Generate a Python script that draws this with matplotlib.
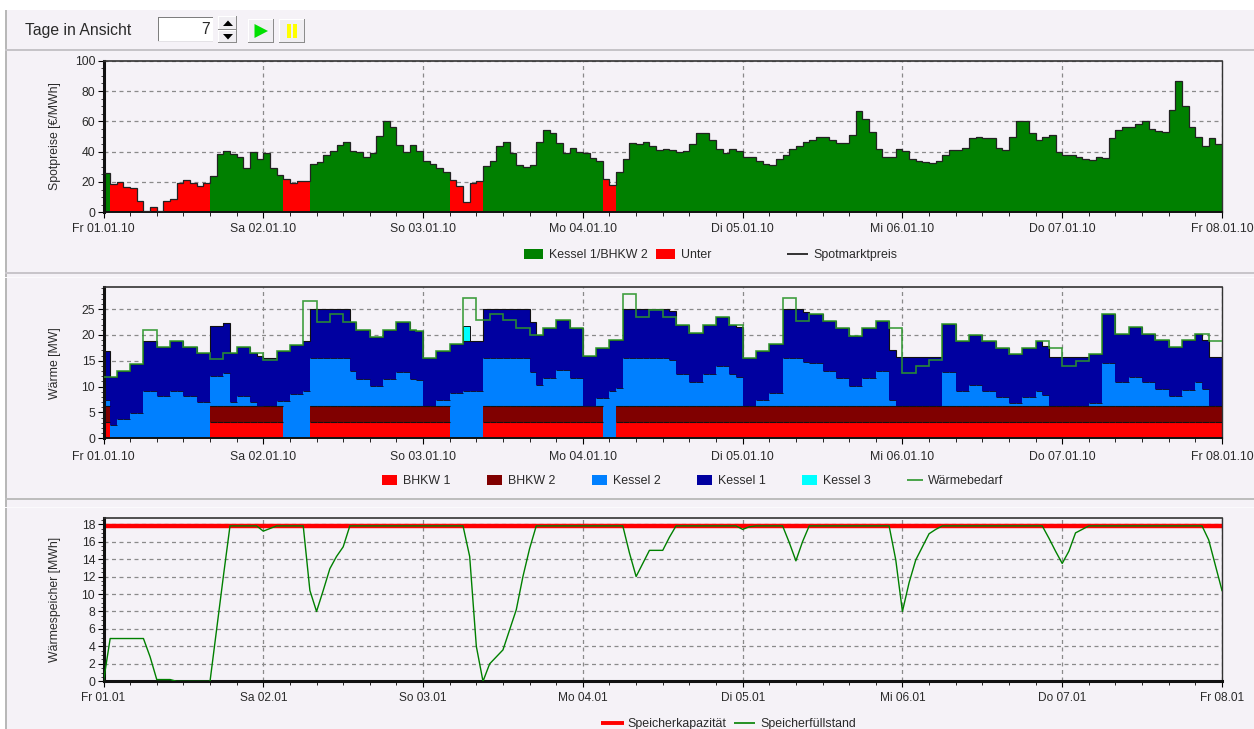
import numpy as np
import matplotlib
matplotlib.use("Agg")
import matplotlib.pyplot as plt
from matplotlib.patches import Rectangle, Polygon

plt.rcParams['font.family'] = ['Liberation Sans', 'DejaVu Sans']

W, H = 1254, 729

# ---------------- data (hourly, 01.01.10 00:00 .. 08.01.10 00:00) ----------------
spot_prices = [
    26, 18.5, 20, 17, 16, 7.5, 0.7, 3.7, 0.7, 7.5, 9, 19, 21.5, 19, 17.5, 19, 24, 38.5, 40.5, 38.5, 36.7, 29, 40, 35,
    39, 29, 24.5, 22, 19, 20.5, 20.5, 32, 33.5, 38, 40.5, 44.5, 46.5, 40.5, 40, 36.7, 39, 50.5, 60, 56.5, 44.5, 40, 44.5, 40.5,
    34, 32, 29, 26.5, 21, 17.6, 6.6, 19.5, 20.5, 30.5, 34, 43.5, 46.5, 39, 31, 30, 31, 46.5, 54, 52.5, 45.5, 39, 42.5, 39.5,
    39, 36, 34, 22, 18, 26.5, 35, 45.5, 45, 46.5, 44, 41, 42, 41, 40, 40.5, 45, 52.5, 52.5, 48, 41.5, 39, 42, 40.5,
    36.7, 36.7, 34, 32, 31, 35, 37.5, 41.5, 44, 46.5, 48, 49.5, 49.5, 47.5, 46, 46, 51, 66.5, 61.5, 53, 41.5, 36.7, 36.7, 41.5,
    40.5, 35, 34, 33, 32.5, 34, 37.5, 41, 41, 42.5, 49, 50, 49, 49, 42.5, 41, 49.5, 60, 60, 52.5, 48, 49.5, 51, 39.5,
    37.5, 37.5, 36.7, 35, 34.5, 36.5, 36, 49, 54, 56.5, 56, 58, 60, 55, 53.5, 53, 67.5, 86.5, 70, 56, 50, 43.5, 49, 45,
]
under_hours = [1, 2, 3, 4, 5, 6, 7, 8, 9, 10, 11, 12, 13, 14, 15, 27, 28, 29, 30, 52, 53, 54, 55, 56, 75, 76]

bhkw1 = ([3.1] * 1 + [0] * 15 + [3.1] * 11 + [0] * 4 + [3.1] * 21 + [0] * 5 + [3.1] * 18 + [0] * 2 + [3.1] * 91)
bhkw2 = ([3.1] * 1 + [0] * 15 + [3.1] * 11 + [0] * 4 + [3.1] * 21 + [0] * 5 + [3.1] * 18 + [0] * 2 + [3.1] * 91)
kessel2_top = [
    7.4, 2.5, 3.7, 3.7, 4.8, 4.8, 9.2, 9.2, 8.1, 8.1, 9.2, 9.2, 8.1, 8.1, 7, 7, 12.1, 12.1, 12.6, 7, 8.1, 8.1, 7, 6.3,
    6.2, 6.2, 7.2, 7.2, 8.6, 8.6, 9.2, 15.6, 15.6, 15.6, 15.6, 15.6, 15.6, 13, 11.5, 11.5, 10.1, 10.1, 11.5, 11.5, 12.9, 12.9, 11.5, 11.2,
    6.2, 6.2, 7.4, 7.4, 8.7, 8.7, 9.2, 9.2, 9.2, 15.5, 15.5, 15.5, 15.5, 15.5, 15.5, 15.5, 12.8, 10.3, 11.7, 11.7, 13.2, 13.2, 11.7, 11.7,
    6.3, 6.3, 7.8, 7.8, 9.2, 9.7, 15.5, 15.5, 15.5, 15.5, 15.5, 15.5, 15.5, 15.2, 12.5, 12.5, 10.8, 10.8, 12.4, 12.4, 13.9, 13.9, 12.4, 11.9,
    6.2, 6.2, 7.4, 7.4, 8.8, 8.8, 15.5, 15.5, 15.5, 14.8, 14.6, 14.6, 13, 13, 11.7, 11.7, 10.1, 10.1, 11.7, 11.7, 13, 13, 7.4, 6.2,
    6.2, 6.2, 6.2, 6.2, 6.2, 6.2, 12.8, 12.8, 9.2, 9.2, 10.3, 10.3, 9.2, 9.2, 7.9, 7.9, 6.8, 6.8, 7.9, 7.9, 9.2, 8.4, 6.2, 6.2,
    6.2, 6.2, 6.2, 6.2, 6.8, 6.8, 14.6, 14.6, 10.8, 10.8, 11.9, 11.9, 10.8, 10.8, 9.5, 9.5, 8.1, 8.1, 9.4, 9.4, 10.8, 9.5, 6.2, 6.2,
]
kessel1_top = [
    16.9, 11.9, 13.1, 13.1, 14.3, 14.3, 18.8, 18.8, 17.7, 17.7, 18.8, 18.8, 17.7, 17.7, 16.5, 16.5, 21.7, 21.7, 22.2, 16.5, 17.7, 17.7, 16.5, 15.9,
    15.6, 15.6, 16.8, 16.8, 18.1, 18.1, 18.8, 25, 25, 25, 25, 25, 25, 22.4, 21, 21, 19.5, 19.5, 21, 21, 22.4, 22.4, 21, 20.8,
    15.6, 15.6, 16.9, 16.9, 18.3, 18.3, 18.8, 18.8, 18.8, 25, 25, 25, 25, 25, 25, 25, 22.4, 19.9, 21.3, 21.3, 22.8, 22.8, 21.3, 21.3,
    15.9, 15.9, 17.4, 17.4, 19, 19, 25, 25, 25, 25, 25, 25, 25, 24.7, 21.9, 21.9, 20.3, 20.3, 21.9, 21.9, 23.4, 23.4, 21.9, 21.5,
    15.5, 15.5, 16.8, 16.8, 18.3, 18.3, 25, 25, 25, 24.4, 24.1, 24.1, 22.6, 22.6, 21.3, 21.3, 19.7, 19.7, 21.3, 21.3, 22.6, 22.6, 17, 15.7,
    15.7, 15.7, 15.7, 15.7, 15.7, 15.7, 22.1, 22.1, 18.8, 18.8, 19.9, 19.9, 18.8, 18.8, 17.4, 17.4, 16.3, 16.3, 17.4, 17.4, 18.8, 17.9, 15.7, 15.7,
    15.7, 15.7, 15.7, 15.7, 16.3, 16.3, 24.1, 24.1, 20.1, 20.1, 21.5, 21.5, 20.1, 20.1, 19, 19, 17.7, 17.7, 19, 19, 20.1, 19, 15.7, 15.7,
]
kessel3_hour = [54]
kessel3_mw = [2.9]
waermebedarf = [
    11.9, 11.9, 13.1, 13.1, 14.3, 14.3, 21, 21, 17.7, 17.7, 18.8, 18.8, 17.7, 17.7, 16.5, 16.5, 15.4, 15.4, 16.5, 16.5, 17.7, 17.7, 16.5, 16.5,
    15.2, 15.2, 16.8, 16.8, 18.1, 18.1, 26.6, 26.6, 22.4, 22.4, 24, 24, 22.4, 22.4, 21, 21, 19.5, 19.5, 21, 21, 22.4, 22.4, 21, 20.8,
    15.6, 15.6, 16.9, 16.9, 18.3, 18.3, 27.1, 27.1, 22.8, 22.8, 24.1, 24.1, 22.8, 22.8, 21.3, 21.3, 19.9, 19.9, 21.3, 21.3, 22.8, 22.8, 21.3, 21.3,
    15.9, 15.9, 17.4, 17.4, 19, 19, 28, 28, 23.4, 23.4, 24.8, 24.8, 23.4, 23.4, 21.9, 21.9, 20.3, 20.3, 21.9, 21.9, 23.4, 23.4, 21.9, 21.9,
    15.5, 15.5, 16.8, 16.8, 18.3, 18.3, 27.1, 27.1, 22.6, 22.6, 24.1, 24.1, 22.6, 22.6, 21.3, 21.3, 19.7, 19.7, 21.3, 21.3, 22.6, 22.6, 21.3, 21.3,
    12.7, 12.7, 13.9, 13.9, 15.2, 15.2, 22.1, 22.1, 18.8, 18.8, 19.9, 19.9, 18.8, 18.8, 17.4, 17.4, 16.3, 16.3, 17.4, 17.4, 18.8, 18.8, 17.4, 17.4,
    13.9, 13.9, 15, 15, 16.3, 16.3, 24.1, 24.1, 20.1, 20.1, 21.5, 21.5, 20.1, 20.1, 19, 19, 17.7, 17.7, 19, 19, 20.1, 20.1, 18.9, 18.9,
]
speicherkapazitaet = 17.8
speicherfuellstand = [
    0, 4.9, 4.9, 4.9, 4.9, 4.9, 4.9, 2.8, 0.2, 0.2, 0.2, 0, 0, 0, 0, 0, 0, 6, 12, 17.8, 17.8, 17.8, 17.8, 17.8,
    17.2, 17.5, 17.8, 17.8, 17.8, 17.8, 17.8, 10.4, 8, 10.4, 12.9, 14.3, 15.4, 17.8, 17.8, 17.8, 17.8, 17.8, 17.8, 17.8, 17.8, 17.8, 17.8, 17.8,
    17.8, 17.8, 17.8, 17.8, 17.8, 17.8, 17.8, 14.3, 4, 0, 2, 2.8, 3.6, 5.9, 8.2, 12, 15.2, 17.8, 17.8, 17.8, 17.8, 17.8, 17.8, 17.8,
    17.8, 17.8, 17.8, 17.8, 17.8, 17.8, 17.8, 14.7, 12, 13.5, 15, 15, 15, 16.5, 17.8, 17.8, 17.8, 17.8, 17.8, 17.8, 17.8, 17.8, 17.8, 17.8,
    17.4, 17.7, 17.8, 17.8, 17.8, 17.8, 17.8, 15.9, 13.8, 16, 17.8, 17.8, 17.8, 17.8, 17.8, 17.8, 17.8, 17.8, 17.8, 17.8, 17.8, 17.8, 17.8, 13.9,
    8, 11.3, 13.9, 15.4, 16.9, 17.4, 17.8, 17.8, 17.8, 17.8, 17.8, 17.8, 17.8, 17.8, 17.8, 17.8, 17.8, 17.8, 17.8, 17.8, 17.8, 17.8, 16.4, 14.9,
    13.5, 14.9, 17, 17.4, 17.8, 17.8, 17.8, 17.8, 17.8, 17.8, 17.8, 17.8, 17.8, 17.8, 17.8, 17.8, 17.8, 17.8, 17.8, 17.8, 17.8, 17.8, 16.2, 13.3,
    10.4,
]
day_labels_long = ['Fr 01.01.10', 'Sa 02.01.10', 'So 03.01.10', 'Mo 04.01.10', 'Di 05.01.10', 'Mi 06.01.10', 'Do 07.01.10', 'Fr 08.01.10']
day_labels_short = ['Fr 01.01', 'Sa 02.01', 'So 03.01', 'Mo 04.01', 'Di 05.01', 'Mi 06.01', 'Do 07.01', 'Fr 08.01']

# ---------------- figure ----------------
BG = '#F5F2F7'
TXT = '#2A2A2A'
fig = plt.figure(figsize=(W / 100, H / 100), dpi=100, facecolor=BG)

ui = fig.add_axes([0, 0, 1, 1], zorder=5)
ui.set_xlim(0, W)
ui.set_ylim(H, 0)
ui.axis('off')
ui.patch.set_alpha(0)


def px_axes(x0, x1, y0, y1):
    return fig.add_axes([x0 / W, 1 - y1 / H, (x1 - x0) / W, (y1 - y0) / H], facecolor=BG, zorder=2)


hours = np.arange(168)
edges = np.arange(169)
GREEN, RED, K2, K1, K3, B2 = '#008000', '#FF0000', '#0080FF', '#0000A0', '#00FFFF', '#800000'
DEMAND = '#2C962C'


def style(ax, labels, ymax, yticks, yminor, ylabel, fs=8.8, pad=5):
    ax.set_xlim(0, 168)
    ax.set_ylim(0, ymax)
    ax.set_xticks(np.arange(0, 169, 24))
    ax.set_xticklabels(labels, fontsize=fs, color=TXT)
    ax.set_xticks(np.arange(0, 169, 4), minor=True)
    ax.set_yticks(yticks)
    ax.set_yticks(yminor, minor=True)
    ax.tick_params(axis='y', which='major', length=4, width=0.8, labelsize=8.8, labelcolor=TXT, pad=2)
    ax.tick_params(axis='y', which='minor', length=2, width=0.5)
    ax.tick_params(axis='x', which='major', length=4, width=0.8, pad=pad)
    ax.tick_params(axis='x', which='minor', length=3, width=0.6)
    ax.grid(True, which='major', color='#8A8A8A', linestyle=(0, (3.2, 2.8)), linewidth=0.9)
    ax.set_axisbelow(True)
    ax.set_ylabel(ylabel, fontsize=8.8, color=TXT)
    ax.yaxis.set_label_coords(-43 / 1119, 0.5)
    for side, lw in (('left', 2.2), ('bottom', 1.4), ('top', 1.2), ('right', 1.0)):
        ax.spines[side].set_linewidth(lw)
        ax.spines[side].set_color('#111111' if side in ('left', 'bottom') else '#333333')


# Panel 1: spot price
ax1 = px_axes(103.5, 1222, 60.7, 212.3)
price = np.array(spot_prices)
colors1 = [RED if h in under_hours else GREEN for h in hours]
ax1.bar(hours, price, width=1, align='edge', color=colors1, linewidth=0, antialiased=False, zorder=2)
ax1.stairs(price, edges, baseline=None, color='#222222', linewidth=0.9, zorder=3)
style(ax1, day_labels_long, 100, np.arange(0, 101, 20), np.arange(0, 101, 5), 'Spotpreise [€/MWh]', pad=4)

# Panel 2: heat
ax2 = px_axes(103.5, 1222, 287.3, 438.3)
b1 = np.array(bhkw1, float)
b2 = np.array(bhkw2, float)
k2_top = np.array(kessel2_top, float)
k1_top = np.array(kessel1_top, float)
base2 = b1 + b2
ax2.bar(hours, b1, width=1, align='edge', color=RED, linewidth=0, antialiased=False, zorder=2)
ax2.bar(hours, b2, bottom=b1, width=1, align='edge', color=B2, linewidth=0, antialiased=False, zorder=2)
ax2.bar(hours, k2_top - base2, bottom=base2, width=1, align='edge', color=K2, linewidth=0, antialiased=False, zorder=2)
ax2.bar(hours, k1_top - k2_top, bottom=k2_top, width=1, align='edge', color=K1, linewidth=0, antialiased=False, zorder=2)
ax2.bar(kessel3_hour, kessel3_mw, bottom=k1_top[kessel3_hour], width=1, align='edge', color=K3,
        edgecolor='#111111', linewidth=0.7, zorder=2)
on = b1 > 0
ax2.hlines(b1[on], hours[on], hours[on] + 1, color='#111111', linewidth=0.8, zorder=3)
ax2.hlines(base2[on], hours[on], hours[on] + 1, color='#111111', linewidth=0.8, zorder=3)
k2_above = k2_top > base2 + 0.05
ax2.hlines(k2_top[k2_above], hours[k2_above], hours[k2_above] + 1, color='#111133', linewidth=0.7, zorder=3)
ax2.stairs(k1_top, edges, baseline=None, color='#111111', linewidth=0.8, zorder=3)
ax2.stairs(waermebedarf, edges, baseline=None, color=DEMAND, linewidth=1.2, alpha=0.9, zorder=4)
style(ax2, day_labels_long, 29.2, np.arange(0, 26, 5), np.arange(0, 29.1, 1), 'Wärme [MW]')

# Panel 3: storage
ax3 = px_axes(103.5, 1222, 517.7, 681.3)
ax3.axhline(speicherkapazitaet, color=RED, linewidth=3.2, zorder=2)
ax3.plot(np.arange(169), speicherfuellstand, color=GREEN, linewidth=1.0, zorder=3)
style(ax3, day_labels_short, 18.74, np.arange(0, 19, 2), np.arange(0, 18.6, 0.5), 'Wärmespeicher [MWh]', fs=8.6, pad=4)
ax3.spines['bottom'].set_linewidth(2.2)


# Frame and toolbar
def rect(x0, y0, x1, y1, fc, ec='none', lw=0, z=1):
    ui.add_patch(Rectangle((x0, y0), x1 - x0, y1 - y0, facecolor=fc, edgecolor=ec, linewidth=lw, zorder=z))


rect(0, 0, W, 10, 'white')
rect(0, 0, 5, H, 'white')
rect(5, 10, 6.5, H, '#B8B8B8')
rect(5, 48.5, W, 50.5, '#C6C4C8')
rect(5, 272, W, 274, '#C8C5CA')
rect(5, 277, W, 278, '#FBFAFC')
rect(5, 498.4, W, 499.6, '#BDBDBD')
rect(5, 506.5, W, 507.5, '#FBFAFC')

ui.text(25, 30.5, 'Tage in Ansicht', fontsize=11.3, color=TXT, va='center', ha='left')

# number box (sunken)
rect(157.5, 16.5, 213, 42, 'white', z=2)
rect(157.5, 16.5, 213, 18, '#7E7E7E', z=3)
rect(157.5, 16.5, 159, 42, '#7E7E7E', z=3)
rect(157.5, 41, 213, 42, '#E4E2E6', z=3)
ui.text(210, 29.5, '7', fontsize=11.3, color=TXT, va='center', ha='right')


def button(x0, y0, x1, y1):
    rect(x0, y0, x1, y1, '#F0EEF2', z=2)
    rect(x0, y0, x1, y0 + 1, '#FFFFFF', z=3)
    rect(x0, y0, x0 + 1, y1, '#FFFFFF', z=3)
    rect(x0, y1 - 1.5, x1, y1, '#8C8C8C', z=3)
    rect(x1 - 1.5, y0, x1, y1, '#8C8C8C', z=3)


button(218, 16, 237, 30)
button(218, 30, 237, 43)
ui.add_patch(Polygon([(223, 26), (233, 26), (228, 20.5)], closed=True, fc='black', ec='none', zorder=4))
ui.add_patch(Polygon([(223, 34), (233, 34), (228, 39.5)], closed=True, fc='black', ec='none', zorder=4))
button(248, 19, 274, 43)
ui.add_patch(Polygon([(254.5, 24), (254.5, 38), (268, 31)], closed=True, fc='#00E000', ec='none', zorder=4))
button(279, 19, 305, 43)
rect(287, 24, 290.8, 38, '#FFFF00', z=4)
rect(292.8, 24, 296.6, 38, '#FFFF00', z=4)

# Legends
LEG = dict(fontsize=8.9, color=TXT, va='center', ha='left')


def patch_entry(x0, x1, tx, y, color, label, dy=5.2):
    rect(x0, y - dy, x1, y + dy, color, z=3)
    ui.text(tx, y + 0.6, label, **LEG)


def line_entry(x0, x1, tx, y, color, label, lw=1.2):
    ui.plot([x0, x1], [y, y], color=color, linewidth=lw, solid_capstyle='butt', zorder=3)
    ui.text(tx, y + 0.6, label, **LEG)


patch_entry(524, 543, 549, 254, GREEN, 'Kessel 1/BHKW 2')
patch_entry(655.5, 675, 681, 254, RED, 'Unter')
line_entry(787, 808, 813, 254, '#111111', 'Spotmarktpreis')

patch_entry(382, 397, 403, 480, RED, 'BHKW 1')
patch_entry(487, 502, 508, 480, B2, 'BHKW 2')
patch_entry(592, 607, 613, 480, K2, 'Kessel 2')
patch_entry(697, 712, 718, 480, K1, 'Kessel 1')
patch_entry(802, 817, 823, 480, K3, 'Kessel 3')
line_entry(907, 923, 928, 480, DEMAND, 'Wärmebedarf')

line_entry(601, 624, 627, 723, RED, 'Speicherkapazität', lw=2.8)
line_entry(734, 755, 760, 723, GREEN, 'Speicherfüllstand')

fig.savefig('out.png', dpi=100, facecolor=fig.get_facecolor())
